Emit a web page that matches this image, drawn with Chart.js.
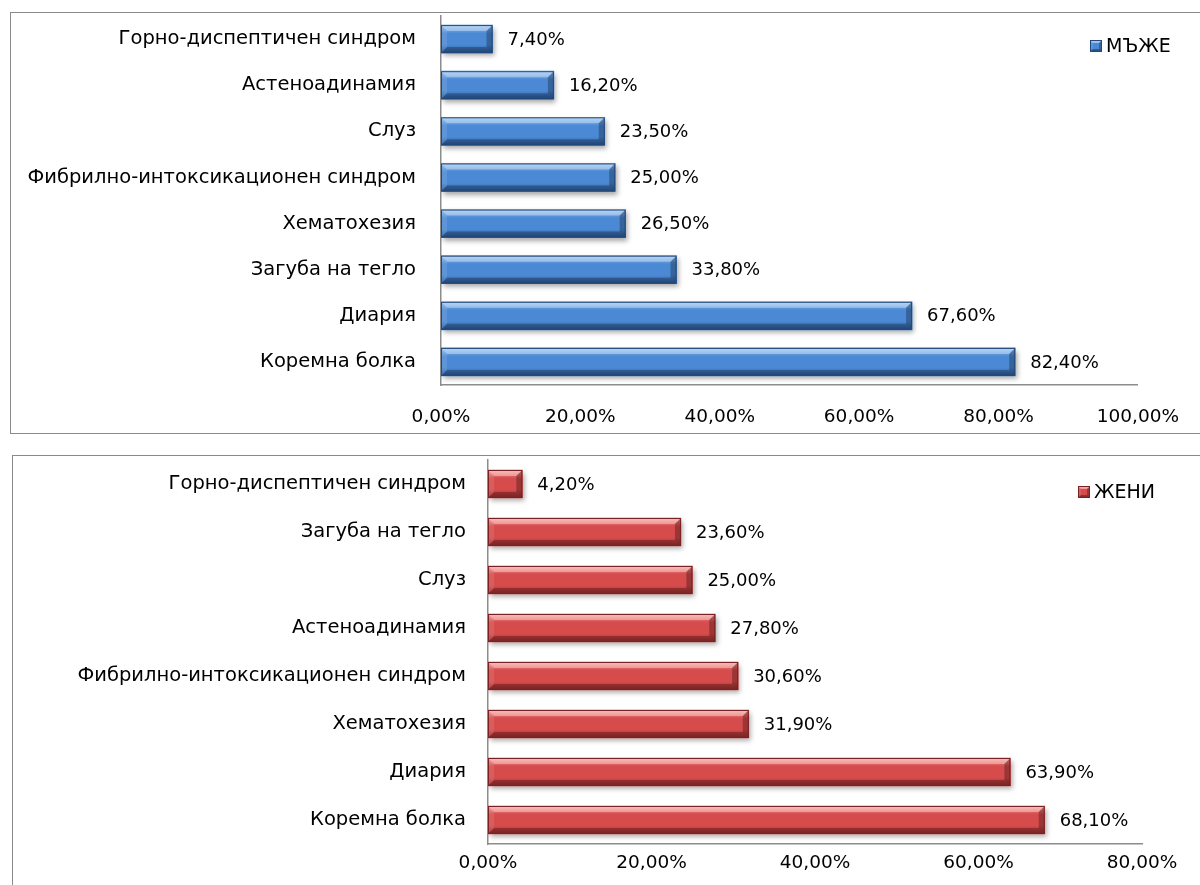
<!DOCTYPE html>
<html>
<head>
<meta charset="utf-8">
<script src="https://cdn.jsdelivr.net/npm/chart.js@4/dist/chart.umd.min.js"></script>
<style>
  html, body { margin: 0; padding: 0; background: #fff; }
  body { width: 1200px; height: 885px; position: relative; overflow: hidden; }
  .frame { position: absolute; box-sizing: border-box; border: 1.5px solid #8a8a8a; border-right: none; }
  #frameMen { left: 10px; top: 12px; width: 1200px; height: 422px; }
  #frameWomen { left: 12px; top: 455px; width: 1200px; height: 460px; }
  canvas { position: absolute; left: 0; }
  #men { top: 0; }
  #women { top: 445px; }
</style>
</head>
<body>
<div class="frame" id="frameMen"></div>
<div class="frame" id="frameWomen"></div>
<canvas id="men" width="1200" height="445"></canvas>
<canvas id="women" width="1200" height="440"></canvas>
<script>
// Symptom frequency, men
const menCategories = [
  'Горно-диспептичен синдром',
  'Астеноадинамия',
  'Слуз',
  'Фибрилно-интоксикационен синдром',
  'Хематохезия',
  'Загуба на тегло',
  'Диария',
  'Коремна болка'
];
const menValues = [7.4, 16.2, 23.5, 25.0, 26.5, 33.8, 67.6, 82.4];
const menTicks = [0, 20, 40, 60, 80, 100];

// Symptom frequency, women
const womenCategories = [
  'Горно-диспептичен синдром',
  'Загуба на тегло',
  'Слуз',
  'Астеноадинамия',
  'Фибрилно-интоксикационен синдром',
  'Хематохезия',
  'Диария',
  'Коремна болка'
];
const womenValues = [4.2, 23.6, 25.0, 27.8, 30.6, 31.9, 63.9, 68.1];
const womenTicks = [0, 20, 40, 60, 80];

const FONT = 'DejaVu Sans';
const pct = v => v.toFixed(2).replace('.', ',') + '%';

const palettes = {
  blue: { light: '#8fc0f2', mid: '#4c89d4', dark: '#2b5b9c', edge: '#22497f' },
  red:  { light: '#f49c9c', mid: '#d64b4b', dark: '#9f2d2d', edge: '#7c2121' }
};

// Paints one bevelled box (bar or legend key)
function paintBevel(ctx, x0, y0, x1, y1, p, b) {
  const g = ctx.createLinearGradient(0, y0, 0, y1);
  g.addColorStop(0, p.light);
  g.addColorStop(0.3, p.mid);
  g.addColorStop(0.7, p.mid);
  g.addColorStop(1, p.dark);
  ctx.fillStyle = g;
  ctx.fillRect(x0, y0, x1 - x0, y1 - y0);
  b = Math.min(b, (x1 - x0) / 2, (y1 - y0) / 2);
  const poly = (pts, color) => {
    ctx.beginPath();
    ctx.moveTo(pts[0][0], pts[0][1]);
    for (let k = 1; k < pts.length; k++) ctx.lineTo(pts[k][0], pts[k][1]);
    ctx.closePath();
    ctx.fillStyle = color;
    ctx.fill();
  };
  poly([[x0, y0], [x1, y0], [x1 - b, y0 + b], [x0 + b, y0 + b]], 'rgba(255,255,255,0.35)');
  poly([[x0, y1], [x1, y1], [x1 - b, y1 - b], [x0 + b, y1 - b]], 'rgba(0,0,0,0.25)');
  poly([[x0, y0], [x0 + b, y0 + b], [x0 + b, y1 - b], [x0, y1]], 'rgba(255,255,255,0.10)');
  poly([[x1, y0], [x1 - b, y0 + b], [x1 - b, y1 - b], [x1, y1]], 'rgba(0,0,0,0.28)');
  ctx.strokeStyle = p.edge;
  ctx.lineWidth = 1;
  ctx.strokeRect(x0 + 0.5, y0 + 0.5, x1 - x0 - 1, y1 - y0 - 1);
}

// Drop shadow under the bars, bevel shading on top, value labels at bar ends
const bevelBars = {
  id: 'bevelBars',
  beforeDatasetsDraw(chart) {
    const ctx = chart.ctx;
    ctx.save();
    ctx.shadowColor = 'rgba(0,0,0,0.35)';
    ctx.shadowBlur = 5;
    ctx.shadowOffsetX = 2;
    ctx.shadowOffsetY = 3;
  },
  afterDatasetsDraw(chart, args, opts) {
    const ctx = chart.ctx;
    ctx.restore();
    const p = palettes[opts.palette];
    const ds = chart.data.datasets[0];
    chart.getDatasetMeta(0).data.forEach((bar, i) => {
      const { x, y, base, height } = bar.getProps(['x', 'y', 'base', 'height'], true);
      const x0 = Math.min(x, base), x1 = Math.max(x, base);
      const y0 = y - height / 2, y1 = y + height / 2;
      ctx.save();
      paintBevel(ctx, x0, y0, x1, y1, p, 6);
      ctx.fillStyle = '#000';
      ctx.font = '18px "' + FONT + '"';
      ctx.textAlign = 'left';
      ctx.textBaseline = 'middle';
      ctx.fillText(pct(ds.data[i]), x1 + 15, y + 1);
      ctx.restore();
    });
  },
  afterDraw(chart, args, opts) {
    const ctx = chart.ctx;
    const p = palettes[opts.palette];
    const lx = opts.legendX, ly = opts.legendY;
    ctx.save();
    paintBevel(ctx, lx, ly - 6, lx + 12, ly + 6, p, 3);
    ctx.fillStyle = '#000';
    ctx.font = '19px "' + FONT + '"';
    ctx.textAlign = 'left';
    ctx.textBaseline = 'middle';
    ctx.fillText(chart.data.datasets[0].label, lx + 16, ly + 1);
    ctx.restore();
  }
};

function makeChart(id, cats, vals, ticks, label, palette, geom) {
  return new Chart(document.getElementById(id), {
    type: 'bar',
    data: {
      labels: cats,
      datasets: [{
        label: label,
        data: vals,
        backgroundColor: palettes[palette].mid,
        borderWidth: 0,
        barThickness: 28
      }]
    },
    options: {
      indexAxis: 'y',
      responsive: false,
      animation: false,
      layout: { padding: { left: 0, right: geom.right, top: geom.top, bottom: geom.bottom } },
      plugins: {
        legend: { display: false },
        tooltip: { enabled: false },
        bevelBars: { palette: palette, legendX: geom.legendX, legendY: geom.legendY }
      },
      scales: {
        x: {
          min: ticks[0],
          max: ticks[ticks.length - 1],
          afterBuildTicks: s => { s.ticks = ticks.map(v => ({ value: v })); },
          afterFit: s => { s.height = geom.xHeight; },
          grid: { display: false, drawTicks: false },
          border: { display: true, color: '#8c8c8c', width: 1.5 },
          ticks: {
            padding: geom.xPad,
            color: '#000',
            font: { family: FONT, size: 18.5 },
            maxRotation: 0,
            callback: v => pct(v)
          }
        },
        y: {
          afterFit: s => { s.width = geom.yWidth; s.paddingTop = 0; s.paddingBottom = 0; },
          grid: { display: false, drawTicks: false },
          border: { display: true, color: '#8c8c8c', width: 1.5 },
          ticks: {
            padding: geom.yPad,
            color: '#000',
            font: { family: FONT, size: 19.5 },
            autoSkip: false
          }
        }
      }
    },
    plugins: [bevelBars]
  });
}

makeChart('men', menCategories, menValues, menTicks, 'МЪЖЕ', 'blue', {
  yWidth: 441, right: 57, top: 16, bottom: 10, xHeight: 50, xPad: 21, yPad: 25,
  legendX: 1090, legendY: 46
});
makeChart('women', womenCategories, womenValues, womenTicks, 'ЖЕНИ', 'red', {
  yWidth: 488, right: 58, top: 15, bottom: 11, xHeight: 30, xPad: 8, yPad: 22,
  legendX: 1078, legendY: 492 - 445
});
</script>
</body>
</html>
